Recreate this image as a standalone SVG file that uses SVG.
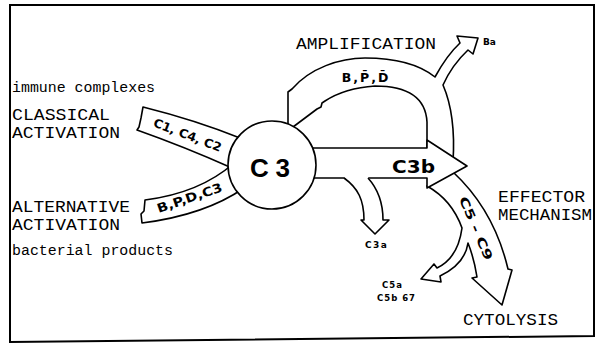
<svg xmlns="http://www.w3.org/2000/svg" width="598" height="347" viewBox="0 0 598 347">
<style>
.sh{fill:#fff;stroke:#000;stroke-width:1.6;stroke-linejoin:round}
.fo{fill:#fff;stroke:none}
.ln{fill:none;stroke:#000;stroke-width:1.6;stroke-linejoin:round}
.tw{font-family:"Liberation Mono","DejaVu Sans Mono",monospace;fill:#000}
.bd{font-family:"DejaVu Sans","Liberation Sans",sans-serif;font-weight:bold;fill:#000}
</style>
<rect width="598" height="347" fill="#fff"/>
<path d="M10,5 H594 V336 L10,342 Z" fill="none" stroke="#000" stroke-width="2"/>
<g id="connectors">
<path id="classical-band" class="sh" d="M143,107 Q195,120 240,138 L232,168 Q185,147 137,130 L139,127 L141,118 Z"/>
<path id="alternative-band" class="sh" d="M145,200 Q200,193 234,163 L244,188 Q205,215 142,223 L141,214 L144,211 Z"/>
<path id="amplification-band" class="sh" d="M288,128 L288,92 L292,89 C310,68 340,58 365,58 C395,58 420,65 435,77 Q447,55 460,43 L457,36 L478,38 L473,54 L468,50 Q452,65 443,85 Q456,115 453,162 L440,162 L427,152 L427,122 Q425,86 375,86 Q345,88 325,101 L322,103 L321,107 L317,109 L293,127 Z"/>
<path id="c5c9-band" class="sh" d="M427,186 Q452,200 462,228 Q458,258 437,268 L434,264 L421,279 L441,282 L440,276 Q465,264 468,243 Q474,258 477,277 L472,278 L502,305 L512,270 L508,269 Q494,210 453,172 Z"/>
<path id="c3b-arrow" class="sh" d="M300,148 L427,148 L427,140 L467,166 L427,188 L427,178 L300,178 Z"/>
<path class="fo" d="M344,177 C358,188 364,200 364,220 L361,220 L375,234 L389,220 L383,220 C383,200 377,188 368,177 Z"/>
<path id="c3a-arrow" class="ln" d="M344,178 C358,188 364,200 364,220 L361,220 L375,234 L389,220 L383,220 C383,200 377,188 368,178"/>
</g>
<g id="c3">
<circle cx="272" cy="165" r="44" class="sh"/>
<text font-family="Liberation Sans, Arial, sans-serif" font-weight="bold" x="250" y="177" font-size="26" textLength="40" lengthAdjust="spacing">C3</text>
</g>
<g id="labels-bands">
<text class="bd" font-size="12" text-anchor="middle" transform="translate(186,139) rotate(21)" textLength="72" lengthAdjust="spacingAndGlyphs">C1, C4, C2</text>
<text class="bd" font-size="12.5" text-anchor="middle" transform="translate(191,202) rotate(-19)" textLength="68" lengthAdjust="spacingAndGlyphs">B,P,D,C3</text>
<text class="bd" x="366" y="82" font-size="12.5" text-anchor="middle" letter-spacing="2">B,P̄,D̄</text>
<text class="bd" x="392" y="173" font-size="17" textLength="43" lengthAdjust="spacingAndGlyphs">C3b</text>
<text class="bd" font-size="12" text-anchor="middle" transform="translate(472,230) rotate(67)" textLength="68" lengthAdjust="spacingAndGlyphs">C5 - C9</text>
</g>
<g id="small-labels">
<text class="bd" x="483" y="45" font-size="9">Ba</text>
<text class="bd" x="365" y="248" font-size="9" letter-spacing="1.5">C3a</text>
<text class="bd" x="382" y="288" font-size="8.5" letter-spacing="1">C5a</text>
<text class="bd" x="377" y="301" font-size="8.5" letter-spacing="1">C5b 67</text>
</g>
<g id="text-left">
<text class="tw" x="12" y="92" font-size="14" textLength="143" lengthAdjust="spacingAndGlyphs">immune complexes</text>
<text class="tw" x="12" y="120" font-size="16" textLength="98" lengthAdjust="spacingAndGlyphs">CLASSICAL</text>
<text class="tw" x="12" y="138" font-size="16" textLength="108" lengthAdjust="spacingAndGlyphs">ACTIVATION</text>
<text class="tw" x="12" y="212" font-size="16" textLength="118" lengthAdjust="spacingAndGlyphs">ALTERNATIVE</text>
<text class="tw" x="12" y="230" font-size="16" textLength="108" lengthAdjust="spacingAndGlyphs">ACTIVATION</text>
<text class="tw" x="12" y="255" font-size="14" textLength="161" lengthAdjust="spacingAndGlyphs">bacterial products</text>
</g>
<g id="text-right">
<text class="tw" x="296" y="49" font-size="16" textLength="140" lengthAdjust="spacingAndGlyphs">AMPLIFICATION</text>
<text class="tw" x="498" y="202" font-size="16" textLength="87" lengthAdjust="spacingAndGlyphs">EFFECTOR</text>
<text class="tw" x="498" y="220" font-size="16" textLength="94" lengthAdjust="spacingAndGlyphs">MECHANISM</text>
<text class="tw" x="463" y="325" font-size="16" textLength="95" lengthAdjust="spacingAndGlyphs">CYTOLYSIS</text>
</g>
</svg>
